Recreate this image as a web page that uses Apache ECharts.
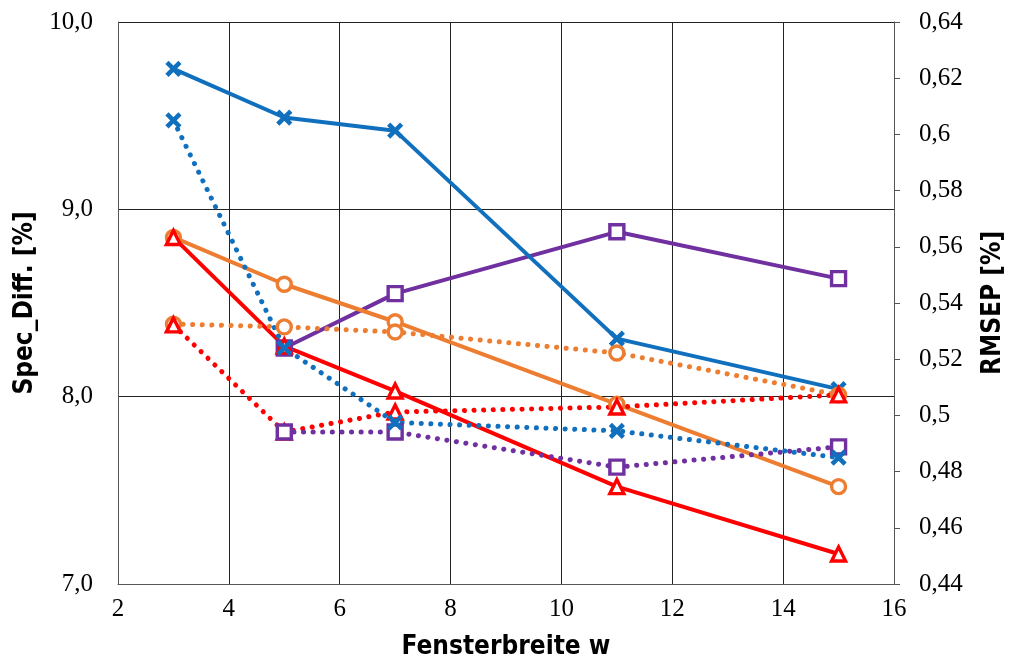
<!DOCTYPE html>
<html>
<head>
<meta charset="utf-8">
<script src="https://cdn.jsdelivr.net/npm/echarts@6/dist/echarts.min.js"></script>
<style>html,body{margin:0;padding:0;background:#fff}#c{width:1014px;height:668px}</style>
</head>
<body>
<div id="c"></div>
<script>
// Fensterbreite w
const windows = [3, 5, 7, 11, 15];
const windowsNo3 = [5, 7, 11, 15];
// Spec_Diff. [%] (left axis, solid lines)
const specBlue = [9.75, 9.49, 9.42, 8.31, 8.04];
const specOrange = [8.85, 8.60, 8.40, 7.96, 7.52];
const specRed = [8.85, 8.27, 8.03, 7.52, 7.16];
const specPurple = [8.26, 8.55, 8.88, 8.63];
// RMSEP [%] (right axis, dotted lines)
const rmsepBlue = [0.605, 0.524, 0.4975, 0.4945, 0.485];
const rmsepOrange = [0.5325, 0.5315, 0.5297, 0.5222, 0.5073];
const rmsepRed = [0.5322, 0.4941, 0.5012, 0.5030, 0.5073];
const rmsepPurple = [0.4941, 0.4941, 0.4816, 0.4888];

const xTicks = {min: 2, max: 16, interval: 2};
const leftTicks = {min: 7, max: 10, interval: 1};
const rightTicks = {min: 0.44, max: 0.64, interval: 0.02};

const BLUE = '#1170BE', ORANGE = '#ED7D31', RED = '#FF0000', PURPLE = '#7030A0';
const XPATH = 'path://M0,0L10,10M10,0L0,10';

function pairs(xs, ys) { return xs.map((x, i) => [x, ys[i]]); }

function mk(name, xs, ys, axis, color, symbol, dotted) {
  const isX = symbol === XPATH;
  return {
    name, type: 'line', yAxisIndex: axis, data: pairs(xs, ys),
    symbol, symbolSize: isX ? 13 : 14, symbolKeepAspect: true,
    showAllSymbol: true,
    lineStyle: dotted ? {color, width: 5, type: [0.1, 9.5], cap: 'round'} : {color, width: 4},
    itemStyle: {color: isX ? color : '#fff', borderColor: color, borderWidth: isX ? 4.5 : 3.4},
    emphasis: {disabled: true},
    animation: false
  };
}

const serif = 'Liberation Serif, Times New Roman, serif';
const narrow = 'DejaVu Sans Condensed, Liberation Sans Narrow, Arial Narrow, sans-serif';

const chart = echarts.init(document.getElementById('c'), null, {renderer: 'canvas'});
chart.setOption({
  backgroundColor: '#fff',
  animation: false,
  grid: {left: 118, right: 117, top: 22, bottom: 84, containLabel: false},
  xAxis: {
    type: 'value', min: xTicks.min, max: xTicks.max, interval: xTicks.interval,
    name: 'Fensterbreite w', nameLocation: 'middle', nameGap: 50,
    nameTextStyle: {fontFamily: narrow, fontWeight: 'bold', fontSize: 26, color: '#000'},
    axisLine: {show: true, lineStyle: {color: '#555', width: 1}},
    axisTick: {show: false},
    axisLabel: {fontFamily: serif, fontSize: 25, color: '#000', margin: 13},
    splitLine: {show: true, lineStyle: {color: '#222', width: 1}}
  },
  yAxis: [{
    type: 'value', min: leftTicks.min, max: leftTicks.max, interval: leftTicks.interval,
    position: 'left',
    name: 'Spec_Diff. [%]', nameLocation: 'middle', nameGap: 76, nameRotate: 90,
    nameTextStyle: {fontFamily: narrow, fontWeight: 'bold', fontSize: 26, color: '#000'},
    axisLine: {show: true, lineStyle: {color: '#555', width: 1}},
    axisTick: {show: false},
    axisLabel: {fontFamily: serif, fontSize: 25, color: '#000', margin: 25,
      formatter: v => v.toFixed(1).replace('.', ',')},
    splitLine: {show: true, lineStyle: {color: '#222', width: 1}}
  }, {
    type: 'value', min: rightTicks.min, max: rightTicks.max, interval: rightTicks.interval,
    position: 'right',
    name: 'RMSEP [%]', nameLocation: 'middle', nameGap: 86, nameRotate: 90,
    nameTextStyle: {fontFamily: narrow, fontWeight: 'bold', fontSize: 26, color: '#000'},
    axisLine: {show: true, lineStyle: {color: '#555', width: 1}},
    axisTick: {show: true, inside: false, length: 6, lineStyle: {color: '#555'}},
    axisLabel: {fontFamily: serif, fontSize: 25, color: '#000', margin: 25,
      formatter: v => String(+v.toFixed(2)).replace('.', ',')},
    splitLine: {show: false}
  }],
  series: [
    mk('Spec purple', windowsNo3, specPurple, 0, PURPLE, 'rect', false),
    mk('Spec orange', windows, specOrange, 0, ORANGE, 'circle', false),
    mk('Spec red', windows, specRed, 0, RED, 'triangle', false),
    mk('Spec blue', windows, specBlue, 0, BLUE, XPATH, false),
    mk('RMSEP orange', windows, rmsepOrange, 1, ORANGE, 'circle', true),
    mk('RMSEP red', windows, rmsepRed, 1, RED, 'triangle', true),
    mk('RMSEP purple', windowsNo3, rmsepPurple, 1, PURPLE, 'rect', true),
    mk('RMSEP blue', windows, rmsepBlue, 1, BLUE, XPATH, true)
  ]
});
</script>
</body>
</html>
